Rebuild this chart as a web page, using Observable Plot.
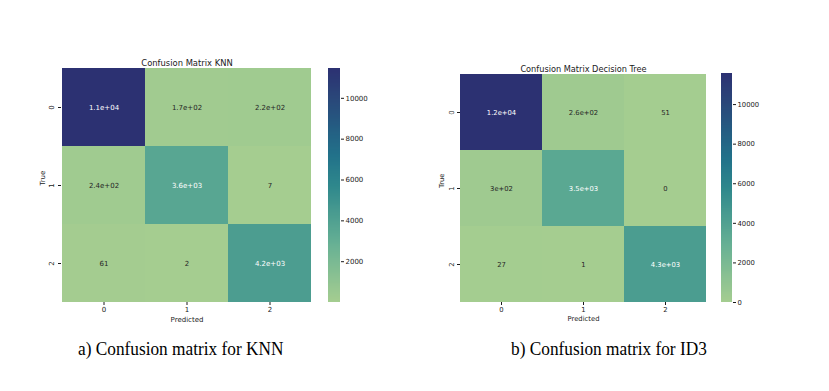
<!DOCTYPE html>
<html><head><meta charset="utf-8">
<script src="https://cdn.jsdelivr.net/npm/d3@7"></script>
<script src="https://cdn.jsdelivr.net/npm/@observablehq/plot@0.6"></script>
<style>
html,body{margin:0;padding:0;background:#fff;}
#root{position:relative;width:829px;height:391px;overflow:hidden;background:#fff;}
#root svg{position:absolute;}
.cap{position:absolute;font-family:"Liberation Serif","Times New Roman",serif;font-size:18px;line-height:20px;color:#000;white-space:nowrap;transform:scaleX(0.96);transform-origin:0 50%;}
</style></head><body><div id="root"></div>
<script>
// ---- data ----
const classes = ["0", "1", "2"];
const knnMatrix = [
  [11460, 170, 220],
  [240, 3600, 7],
  [61, 2, 4200]
];
const id3Matrix = [
  [11570, 260, 51],
  [300, 3500, 0],
  [27, 1, 4300]
];
const knnColorbarTicks = [2000, 4000, 6000, 8000, 10000];
const id3ColorbarTicks = [0, 2000, 4000, 6000, 8000, 10000];
const knnTitle = "Confusion Matrix KNN";
const id3Title = "Confusion Matrix Decision Tree";
const xLabel = "Predicted";
const yLabel = "True";
const captionA = "a) Confusion matrix for KNN";
const captionB = "b) Confusion matrix for ID3";
// seaborn "crest" approximated
const crestStops = ["#a5cd90", "#86bf92", "#66b094", "#4a9c90", "#2e878c", "#22728a", "#245c82", "#2a4679", "#2c3172"];

const interp = d3.piecewise(d3.interpolateRgb, crestStops);
const root = document.getElementById("root");

function fmtG2(v) {
  if (v === 0) return "0";
  const e = Math.floor(Math.log10(Math.abs(v)));
  if (e < -4 || e >= 2) {
    let [m, ex] = v.toExponential(1).split("e");
    m = m.replace(/\.0$/, "");
    const sign = ex[0] === "-" ? "-" : "+";
    let digits = ex.replace(/[+-]/, "");
    if (digits.length < 2) digits = "0" + digits;
    return m + "e" + sign + digits;
  }
  let s = v.toPrecision(2);
  if (s.includes(".")) s = s.replace(/\.?0+$/, "");
  return s;
}
function relLum(c) {
  const f = x => { x /= 255; return x <= 0.03928 ? x / 12.92 : Math.pow((x + 0.055) / 1.055, 2.4); };
  return 0.2126 * f(c.r) + 0.7152 * f(c.g) + 0.0722 * f(c.b);
}

function panel(cfg) {
  const cells = [];
  classes.forEach((t, i) => classes.forEach((p, j) => cells.push({t, p, v: cfg.matrix[i][j]})));
  const lo = d3.min(cells, d => d.v), hi = d3.max(cells, d => d.v);
  const color = {type: "linear", domain: [lo, hi], interpolate: interp};
  const isDark = d => relLum(d3.rgb(interp((d.v - lo) / (hi - lo)))) <= 0.408;
  const fs = cfg.fs;
  const ink = "#1a1a1a";
  const heat = Plot.plot({
    width: cfg.hw, height: cfg.hh,
    marginLeft: cfg.m[0], marginRight: cfg.m[1], marginTop: cfg.m[2], marginBottom: cfg.m[3],
    style: {fontFamily: "DejaVu Sans", fontSize: fs + "px", color: ink, background: "transparent", overflow: "visible"},
    x: {domain: classes, padding: 0, label: null},
    y: {domain: classes, padding: 0, label: null},
    color,
    marks: [
      Plot.cell(cells, {x: "p", y: "t", fill: "v", shapeRendering: "crispEdges"}),
      Plot.text(cells, {filter: d => !isDark(d), x: "p", y: "t", text: d => fmtG2(d.v), fill: "#262626", fontSize: fs}),
      Plot.text(cells, {filter: d => isDark(d), x: "p", y: "t", text: d => fmtG2(d.v), fill: "#ffffff", fontSize: fs}),
      Plot.axisX({tickSize: 3, tickPadding: 2, label: null, fontSize: fs, stroke: ink, fill: ink}),
      Plot.axisY({tickSize: 3, tickPadding: cfg.ytp, tickRotate: -90, label: null, fontSize: fs, stroke: ink, fill: ink}),
      Plot.text([cfg.title], {text: d => d, frameAnchor: "top", dy: cfg.titleDy, fontSize: cfg.tfs, fill: ink}),
      Plot.text([xLabel], {text: d => d, frameAnchor: "bottom", dy: cfg.xlDy, fontSize: fs, fill: ink}),
      Plot.text([yLabel], {text: d => d, frameAnchor: "left", dx: cfg.ylDx, rotate: -90, fontSize: fs, fill: ink})
    ]
  });
  heat.style.left = cfg.hx + "px";
  heat.style.top = cfg.hy + "px";
  root.appendChild(heat);

  const N = 240;
  const bins = d3.range(N).map(i => ({y1: lo + (hi - lo) * i / N, y2: lo + (hi - lo) * (i + 1) / N}));
  const bar = Plot.plot({
    width: cfg.cw, height: cfg.hh,
    marginLeft: cfg.cm[0], marginRight: cfg.cm[1], marginTop: cfg.m[2], marginBottom: cfg.m[3],
    style: {fontFamily: "DejaVu Sans", fontSize: fs + "px", color: ink, background: "transparent", overflow: "visible"},
    x: {domain: [0, 1], axis: null},
    y: {domain: [lo, hi], label: null},
    color,
    marks: [
      Plot.rect(bins, {x1: 0, x2: 1, y1: "y1", y2: "y2", fill: d => (d.y1 + d.y2) / 2, shapeRendering: "crispEdges"}),
      Plot.axisY(cfg.ticks, {anchor: "right", tickSize: 3, tickPadding: 2, tickFormat: d3.format("d"), label: null, fontSize: fs, stroke: ink, fill: ink})
    ]
  });
  bar.style.left = cfg.cx + "px";
  bar.style.top = cfg.hy + "px";
  root.appendChild(bar);
}

panel({
  matrix: knnMatrix, title: knnTitle, ticks: knnColorbarTicks,
  hx: 20, hy: 50, hw: 300, hh: 280, m: [41, 8, 18, 28],
  cx: 320, cw: 60, cm: [8, 40],
  fs: 7, tfs: 8.4, titleDy: -8, xlDy: 19, ylDx: -19, ytp: 5
});
panel({
  matrix: id3Matrix, title: id3Title, ticks: id3ColorbarTicks,
  hx: 420, hy: 50, hw: 300, hh: 280, m: [40, 14, 23, 28],
  cx: 710, cw: 70, cm: [11, 48],
  fs: 6.8, tfs: 8.2, titleDy: -7, xlDy: 18, ylDx: -19, ytp: 4
});

function caption(text, x, y) {
  const d = document.createElement("div");
  d.className = "cap";
  d.textContent = text;
  d.style.left = x + "px";
  d.style.top = y + "px";
  root.appendChild(d);
}
caption(captionA, 78, 339);
caption(captionB, 511, 339);
</script>
</body></html>
